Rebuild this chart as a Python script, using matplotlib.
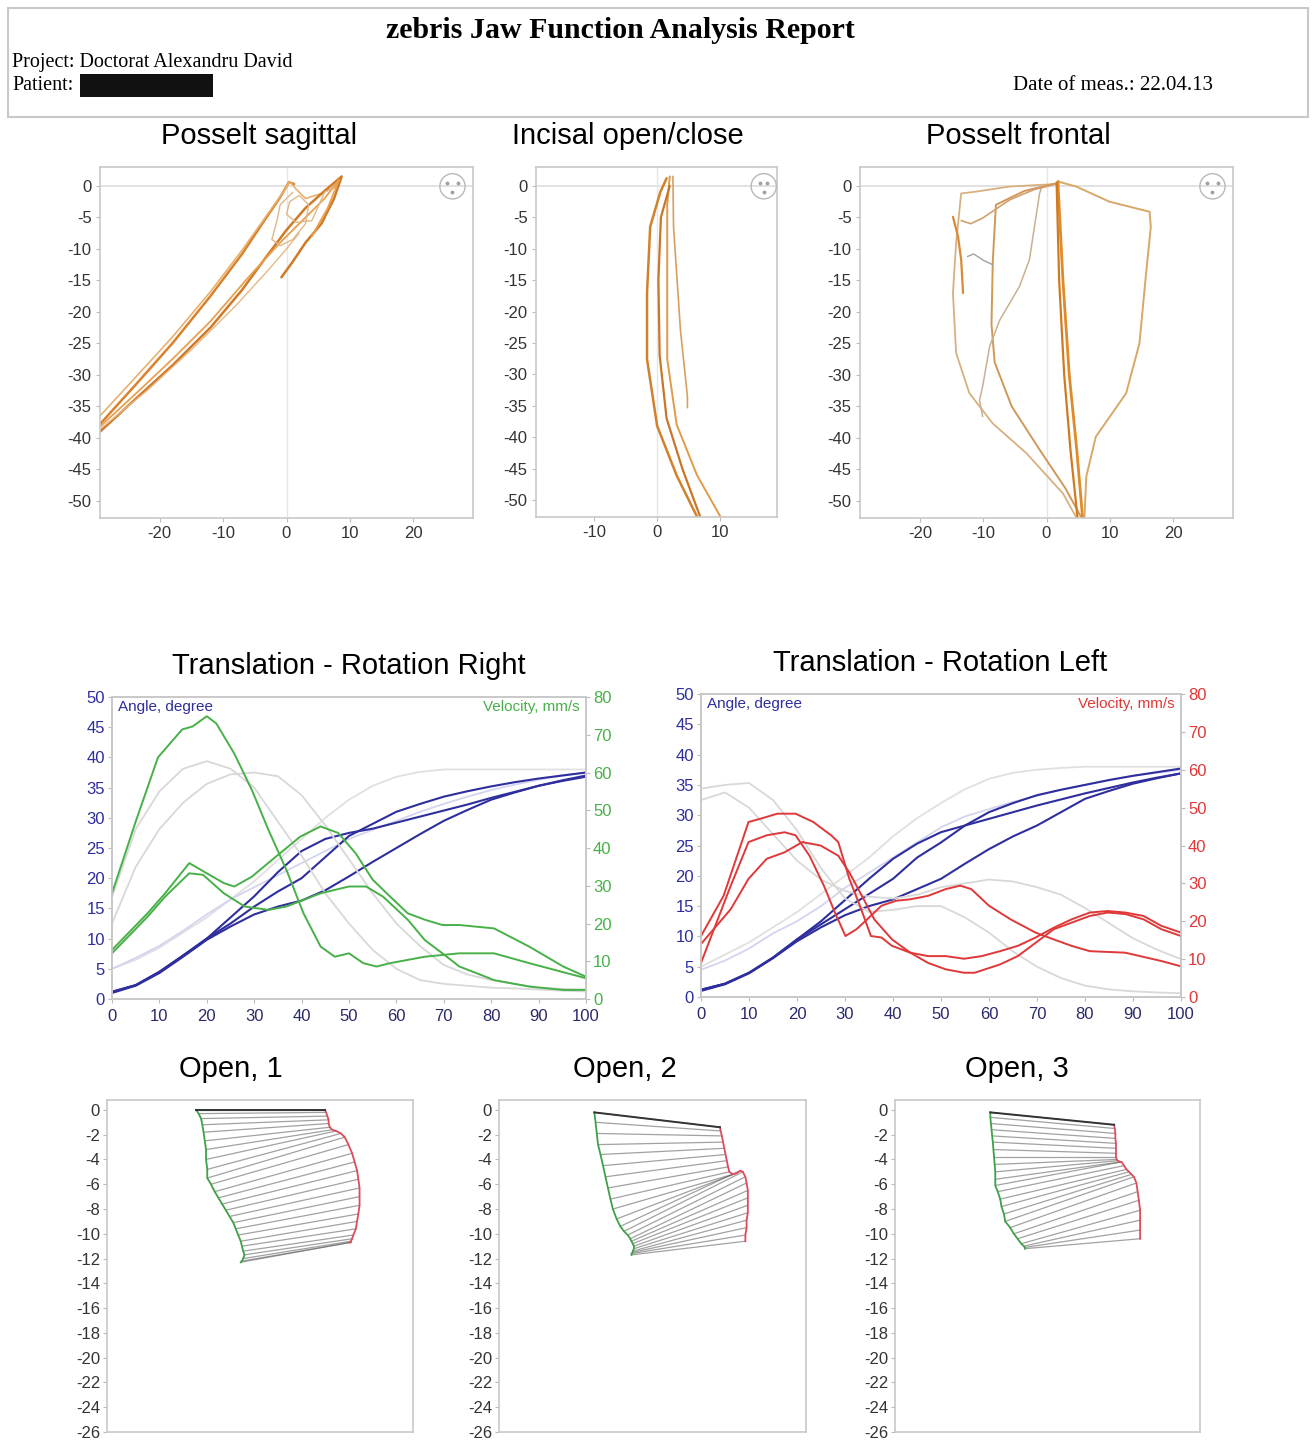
import numpy as np
import matplotlib.pyplot as plt
from matplotlib.patches import Rectangle

W, H = 1314, 1441
plt.rcParams['font.family'] = ['Liberation Sans', 'DejaVu Sans']
plt.rcParams['axes.unicode_minus'] = False

# ---------------- data ----------------
# Posselt sagittal traces (x, y) in mm
sag_up1 = [(-29.4, -37.8), (-24, -31.8), (-18, -25), (-12, -17.5), (-7, -10.8), (-3.5, -5.5), (-1, -1.8), (0.4, 0.6), (1.2, 0.3)]
sag_up2 = [(-29.4, -36.5), (-24, -30.6), (-18, -24), (-12, -16.8), (-7, -10.2), (-3, -4.5), (-0.5, -1), (0.5, 0.7), (1.5, -0.5), (3, -2), (5.5, -1.2), (8, 0)]
sag_lo1 = [(-29.4, -39), (-24, -34), (-18, -28.5), (-12, -22.5), (-7, -16.5), (-3, -11), (0, -7), (3, -3.5), (6, -0.8), (8.7, 1.5),
           (7.5, -2), (5.5, -6), (3, -9), (1, -12), (-0.8, -14.5)]
sag_lo2 = [(-29.4, -38.2), (-24, -33.2), (-18, -27.5), (-12, -21.5), (-6, -14.5), (-1, -9), (3, -5), (6, -2), (8.3, 1), (6.5, -3.5), (4, -8)]
sag_lo3 = [(-29.4, -38.6), (-22, -32.5), (-15, -26), (-8, -19), (-3, -13.5), (0, -10), (2, -7.5)]
sag_loop = [(1, -1), (-1, -3), (-1.5, -5.5), (-2.3, -8.5), (-1, -9.5), (1, -8.5), (3, -6), (3.5, -3), (2, -1.5), (0.5, -2.5),
            (0, -4.5), (1.5, -5.8), (4, -5.5), (6, -1), (7, -0.5)]
sag_traces = [(sag_up1, '#D9822B', 1.8), (sag_up2, '#E8B070', 1.2), (sag_lo1, '#D07A28', 1.8),
              (sag_lo2, '#E8A050', 1.3), (sag_lo3, '#E6B888', 1.0), (sag_loop, '#E0B888', 1.0)]

# Incisal open/close traces
inc_1 = [(1.5, 1.2), (0.5, -1), (-1.1, -6.5), (-1.6, -17), (-1.6, -27.6), (0, -38.2), (3.1, -46.1), (6.3, -52.6)]
inc_2 = [(2, 1.5), (1.6, -3), (1.6, -15), (1.6, -27.6), (3.1, -38), (6.3, -46), (10, -52.6)]
inc_3 = [(2.5, 1.5), (2.6, -6.5), (3.7, -23), (4.8, -33.5), (4.8, -35.3)]
inc_4 = [(2, 0), (0.6, -5), (0.2, -15), (0.4, -27), (1.5, -37), (4, -45), (6.8, -52.6)]
inc_traces = [(inc_1, '#D0822A', 1.8), (inc_2, '#E09A48', 1.4), (inc_3, '#D8A060', 1.2), (inc_4, '#C8762A', 1.6)]

# Posselt frontal traces
fr_main1 = [(1.8, 0.7), (2.6, -15), (3.6, -30), (4.8, -42), (5.7, -52.6)]
fr_main2 = [(1.6, 0.5), (2.0, -15), (2.8, -30), (3.8, -42), (4.9, -52.6)]
fr_right = [(1.8, 0.7), (4.7, -0.1), (9.95, -2.5), (16.3, -4.1), (16.5, -6.5), (15.7, -14.4), (14.7, -25), (12.6, -32.9),
            (7.8, -39.8), (6.3, -46.1), (6.0, -52.6)]
fr_left = [(1.5, 0.3), (-5.8, -0.1), (-11.1, -0.9), (-13.5, -1.2), (-14.3, -9.1), (-14.8, -17), (-14.3, -26.5), (-12.2, -32.9),
           (-8.5, -37.7), (-3.2, -42.4), (2.6, -48.8), (4.7, -52.6)]
fr_inner = [(1.5, 0.4), (-3.5, -0.8), (-8, -3), (-8.5, -12), (-8.7, -22), (-8.2, -28), (-5.5, -35), (-1, -42), (3, -48), (5.5, -52.6)]
fr_diag = [(-0.8, -0.3), (-1.1, -1.2), (-2.7, -11.7), (-4.3, -16), (-7.4, -21.3), (-9, -25.5), (-10.1, -31.8), (-10.6, -34), (-10.1, -36.6)]
fr_lvert = [(-14.8, -4.9), (-14, -8), (-13.5, -11.7), (-13.2, -17)]
fr_cross = [(-13.5, -5.5), (-12, -6), (-10.1, -5.1), (-5.8, -2.2), (-2, -0.6), (1.6, 0.3)]
fr_short = [(-12.5, -11.2), (-11.5, -10.8), (-10, -11.8), (-8.5, -12.5)]
fr_traces = [(fr_right, '#D8A868', 1.4), (fr_left, '#D8B080', 1.3), (fr_inner, '#D09858', 1.4), (fr_diag, '#C8B090', 1.1),
             (fr_lvert, '#D88A38', 1.6), (fr_cross, '#D0A070', 1.2), (fr_short, '#A0A0A0', 1.0),
             (fr_main1, '#E08A2A', 2.0), (fr_main2, '#D07A20', 1.6)]

# Translation - Rotation, x in % of movement
pct = [0, 5, 10, 15, 20, 25, 30, 35, 40, 45, 50, 55, 60, 65, 70, 75, 80, 85, 90, 95, 100]
r_ang_a = [1.2, 2.3, 4.5, 7.2, 10, 13.5, 17, 21, 24.5, 26.5, 27.5, 28.2, 29.2, 30.2, 31.2, 32.2, 33.3, 34.3, 35.3, 36.2, 37.0]
r_ang_b = [1.2, 2.3, 4.5, 7.2, 10, 12.5, 15.3, 17.8, 20, 23.5, 27, 29, 31, 32.3, 33.5, 34.4, 35.2, 35.9, 36.5, 37, 37.5]
r_ang_c = [1.0, 2.2, 4.3, 7, 9.8, 12, 14, 15.3, 16.3, 18, 20.3, 22.7, 25, 27.3, 29.5, 31.3, 33, 34.2, 35.3, 36.1, 36.8]
r_ang_faint = [5, 6.5, 8.5, 11, 13.5, 16.5, 19.5, 23, 26.5, 30, 33, 35.3, 36.8, 37.6, 38, 38, 38, 38, 38, 38, 38]
r_ang_faint2 = [5, 6.8, 8.8, 11.3, 14, 16.5, 18.5, 20.5, 22.5, 24.5, 26.5, 28, 29.5, 31, 32.3, 33.5, 34.6, 35.5, 36.3, 37, 37.5]

r_v1_x = [0, 5, 9.7, 14.8, 17, 20, 22, 25.8, 29.5, 33, 36.8, 40.4, 44, 47, 50, 53, 55.8, 58.7, 66, 73.3, 80.6, 88, 100]
r_v1 = [28, 47, 64, 71.4, 72.2, 74.9, 73, 65, 55.4, 44.8, 34.2, 22.7, 13.9, 11.2, 12.1, 9.5, 8.6, 9.5, 11.2, 12.1, 12.1, 9.5, 5.5]
r_v2_x = [0, 7.5, 11.2, 16.3, 20, 23.6, 25.8, 29.5, 33.8, 39.7, 44, 47.7, 51.4, 55, 58.7, 62.4, 66, 69.7, 73.3, 80.6, 88, 95.2, 100]
r_v2 = [13, 22.7, 28, 36, 33.3, 30.7, 29.8, 32.4, 36.9, 43, 45.7, 44, 38.6, 31.6, 27.1, 22.7, 21, 19.6, 19.6, 18.7, 13.9, 8.6, 5.9]
r_v3_x = [0, 7.5, 11.2, 16.3, 19.2, 23.6, 28, 33, 36.8, 44, 50, 53.6, 57.2, 62.4, 66, 69.7, 73.3, 77, 80.6, 88, 95.2, 100]
r_v3 = [12.1, 21.8, 27.1, 33.3, 32.9, 28, 24.5, 23.6, 24.5, 28, 29.8, 29.8, 27.1, 21, 15.6, 12.1, 8.6, 6.8, 5, 3.3, 2.4, 2.4]
r_vf1 = [27, 45, 55, 61, 63, 61, 56, 47, 38, 28, 20, 13, 8, 5, 4, 3.5, 3, 2.8, 2.5, 2.2, 2]
r_vf2 = [20, 35, 45, 52, 57, 59.5, 60, 59, 54, 46, 37, 28, 20, 14, 9, 6.5, 5, 4, 3, 2.7, 2.5]

l_ang_a = [1.2, 2.2, 4, 6.5, 9.5, 12.5, 16, 19.5, 22.8, 25.3, 27.2, 28.3, 29.4, 30.5, 31.6, 32.6, 33.6, 34.5, 35.4, 36.2, 36.9]
l_ang_b = [1.2, 2.2, 4, 6.5, 9.5, 12, 14.5, 17, 19.5, 23, 25.5, 28.3, 30.5, 32, 33.3, 34.2, 35, 35.8, 36.5, 37.1, 37.7]
l_ang_c = [1.0, 2.1, 3.9, 6.4, 9.2, 11.5, 13.5, 15, 16.1, 17.8, 19.5, 22, 24.4, 26.5, 28.3, 30.5, 32.7, 34, 35.2, 36.1, 36.9]
l_ang_faint = [5, 7, 9, 11.5, 14, 17, 20, 23, 26.5, 29.5, 32, 34.3, 36, 37, 37.5, 37.8, 38, 38, 38, 38, 38]
l_ang_faint2 = [4.5, 6, 8, 10.5, 12.5, 15, 18, 20.5, 23, 25.5, 28, 29.8, 31, 32.2, 33.2, 34.2, 35, 35.8, 36.5, 37, 37.5]

l_v1_x = [0, 4.7, 9.9, 12.2, 15.9, 19.7, 23.4, 27.1, 28.6, 30.9, 33.1, 35.4, 37.6, 39.8, 43.6, 47.3, 51, 54.8, 58.5, 62.3, 66, 69.7,
          73.5, 77.2, 81, 84.7, 88.4, 92.2, 95.9, 100]
l_v1 = [16.1, 26.7, 46.2, 47, 48.4, 48.4, 46.2, 42.7, 40.9, 31.2, 24.1, 16.1, 15.7, 13.5, 11.7, 10.8, 10.8, 10.1, 10.8, 12.1, 13.5, 15.7,
        18.3, 20.5, 22.3, 22.7, 22.3, 21.4, 18.8, 17]
l_v2_x = [0, 6.2, 9.9, 13.7, 17.4, 19.7, 22.6, 25.6, 27.9, 30.1, 32.4, 34.6, 37.6, 40.6, 43.6, 47.3, 51, 54, 56.3, 60, 64.5, 69.7,
          73.5, 77.2, 81, 88.4, 95.9, 100]
l_v2 = [9, 29.4, 40.9, 42.7, 43.5, 42.7, 37.3, 29.4, 22.3, 16.1, 17.9, 20.5, 24.1, 25.4, 25.8, 26.7, 28.5, 29.4, 28.5, 24.1, 20.5, 17,
        15.2, 13.5, 12.1, 11.7, 9.5, 8.1]
l_v3_x = [0, 6.2, 9.9, 13.7, 17.4, 21.1, 24.9, 28.6, 30.9, 33.9, 36.1, 39.8, 43.6, 47.3, 51, 54.8, 57, 62.3, 66, 69.7, 73.5, 81,
          84.7, 88.4, 92.2, 95.9, 100]
l_v3 = [14, 23.2, 31.2, 36.5, 38.2, 40.9, 40, 37.3, 32.9, 25.8, 20.5, 15.2, 11.7, 9, 7.3, 6.4, 6.4, 8.6, 10.8, 14.3, 17.9, 21.4,
        22.3, 21.9, 20.5, 17.9, 16.1]
l_vf1 = [55, 56, 56.5, 52, 44, 34, 26, 22.5, 23, 24, 24, 21, 17, 12, 8, 5, 3, 2, 1.5, 1.2, 1]
l_vf2 = [52, 54, 50, 43, 36, 31, 28, 26.5, 26, 27, 29, 30, 31, 30.5, 29, 27, 23.5, 19.5, 15.5, 12.5, 10]

# Opening fans: left point (x, y) and right point (x, y) per sample
open1_xl = [7.2, 7.4, 7.6, 7.7, 7.8, 7.9, 8.0, 8.0, 8.1, 8.1, 8.4, 8.7, 9.0, 9.3, 9.6, 9.9, 10.2, 10.4, 10.6, 10.8, 10.9, 11.0, 11.1, 11.0, 10.9, 10.8]
open1_yl = [0.0, -0.3, -0.7, -1.2, -1.8, -2.5, -3.2, -4.0, -4.8, -5.5, -6.0, -6.6, -7.1, -7.6, -8.1, -8.6, -9.1, -9.6, -10.1, -10.6, -11.0, -11.4, -11.7, -12.0, -12.2, -12.3]
open1_xr = [17.6, 17.7, 17.8, 17.9, 17.9, 18.0, 18.2, 18.5, 18.9, 19.2, 19.5, 19.8, 20.0, 20.2, 20.3, 20.4, 20.4, 20.4, 20.3, 20.2, 20.1, 19.9, 19.8, 19.7, 19.7, 19.6]
open1_yr = [0.0, -0.2, -0.5, -0.8, -1.1, -1.4, -1.6, -1.7, -1.9, -2.2, -2.8, -3.5, -4.2, -4.9, -5.6, -6.3, -7.0, -7.7, -8.4, -9.0, -9.6, -10.1, -10.4, -10.6, -10.7, -10.7]

open2_xl = [7.7, 7.8, 7.9, 8.0, 8.2, 8.4, 8.6, 8.8, 9.0, 9.2, 9.5, 9.8, 10.1, 10.4, 10.6, 10.7, 10.8, 10.9, 10.9, 10.8, 10.8, 10.7, 10.7]
open2_yl = [-0.2, -1.0, -1.9, -2.8, -3.6, -4.5, -5.4, -6.3, -7.2, -8.0, -8.8, -9.4, -9.8, -10.1, -10.4, -10.6, -10.8, -11.0, -11.2, -11.4, -11.5, -11.6, -11.7]
open2_xr = [17.85, 17.9, 18.0, 18.1, 18.2, 18.3, 18.4, 18.5, 18.6, 18.9, 19.2, 19.5, 19.7, 19.9, 20.0, 20.1, 20.1, 20.1, 20.1, 20.0, 20.0, 19.9, 19.9]
open2_yr = [-1.4, -1.7, -2.1, -2.6, -3.1, -3.6, -4.1, -4.6, -5.0, -5.2, -5.1, -4.9, -5.0, -5.4, -5.9, -6.5, -7.1, -7.7, -8.3, -8.9, -9.5, -10.1, -10.6]

open3_xl = [7.7, 7.7, 7.75, 7.8, 7.85, 7.9, 7.95, 8.0, 8.05, 8.1, 8.1, 8.1, 8.3, 8.5, 8.6, 8.8, 8.9, 9.3, 9.6, 9.9, 10.2, 10.4, 10.5, 10.5]
open3_yl = [-0.2, -0.6, -1.1, -1.6, -2.1, -2.6, -3.2, -3.8, -4.4, -5.0, -5.6, -6.1, -6.6, -7.2, -7.8, -8.4, -9.0, -9.5, -10.0, -10.4, -10.8, -11.0, -11.1, -11.2]
open3_xr = [17.7, 17.75, 17.8, 17.8, 17.85, 17.85, 17.85, 17.85, 17.9, 18.0, 18.2, 18.3, 18.5, 18.7, 18.9, 19.1, 19.3, 19.5, 19.6, 19.7, 19.8, 19.8, 19.8, 19.8]
open3_yr = [-1.2, -1.5, -1.9, -2.3, -2.7, -3.1, -3.5, -3.8, -4.0, -4.1, -4.2, -4.2, -4.5, -4.8, -5.0, -5.2, -5.4, -5.9, -6.6, -7.3, -8.1, -8.9, -9.7, -10.4]

# ---------------- figure ----------------
fig = plt.figure(figsize=(W / 100, H / 100), dpi=100)


def add_ax(x0, y0, x1, y1):
    return fig.add_axes([x0 / W, 1 - y1 / H, (x1 - x0) / W, (y1 - y0) / H])


# header box
fig.patches.append(Rectangle((8 / W, 1 - 117 / H), 1300 / W, 109 / H, transform=fig.transFigure,
                             fill=False, edgecolor='#c8c8c8', lw=1.5))
fig.text(620 / W, 1 - 30 / H, 'zebris Jaw Function Analysis Report', ha='center', va='center',
         family='Liberation Serif', weight='bold', fontsize=21.5)
fig.text(12 / W, 1 - 62 / H, 'Project: Doctorat Alexandru David', ha='left', va='center',
         family='Liberation Serif', fontsize=14.5)
fig.text(12 / W, 1 - 86 / H, 'Patient:', ha='left', va='center', family='Liberation Serif', fontsize=14.5)
fig.patches.append(Rectangle((80 / W, 1 - 97 / H), 133 / W, 23 / H, transform=fig.transFigure,
                             facecolor='#111111', edgecolor='none'))
fig.text(1213 / W, 1 - 85 / H, 'Date of meas.: 22.04.13', ha='right', va='center',
         family='Liberation Serif', fontsize=15)

SPINE = '#c8c8c8'
TICKC = '#333333'
TFS = 21


def style_box(ax):
    for s in ax.spines.values():
        s.set_color(SPINE)
        s.set_linewidth(1.2)


def face_icon(ax):
    ax.scatter([0.945], [0.945], s=330, facecolors='none', edgecolors='#b8b8b8', lw=1.0,
               transform=ax.transAxes, zorder=5, clip_on=False)
    ax.scatter([0.93, 0.96, 0.945], [0.955, 0.955, 0.93], s=3, c='#a0a0a0', transform=ax.transAxes, zorder=5)


def top_panel(box, xlim, xticks, title, tx, traces):
    ax = add_ax(*box)
    ax.set_xlim(*xlim)
    ax.set_ylim(-52.7, 3.0)
    ax.axhline(0, color='#dddddd', lw=1.2, zorder=0)
    ax.axvline(0, color='#e6e6e6', lw=1.0, zorder=0)
    for pts, col, lw in traces:
        a = np.array(pts)
        ax.plot(a[:, 0], a[:, 1], color=col, lw=lw, solid_capstyle='round')
    ax.set_xticks(xticks)
    ax.set_yticks(np.arange(0, -51, -5))
    ax.tick_params(labelsize=12, colors='#bbbbbb', labelcolor=TICKC, length=3, pad=3)
    style_box(ax)
    face_icon(ax)
    fig.text(tx / W, 1 - 136 / H, title, ha='center', va='center', fontsize=TFS)
    return ax


top_panel((100, 167, 473, 518), (-29.4, 29.4), [-20, -10, 0, 10, 20], 'Posselt sagittal', 259, sag_traces)
top_panel((536, 167, 777, 517), (-19.2, 19.0), [-10, 0, 10], 'Incisal open/close', 628, inc_traces)
top_panel((860, 167, 1233, 518), (-29.5, 29.5), [-20, -10, 0, 10, 20], 'Posselt frontal', 1018, fr_traces)

BLUE = '#2e2e9e'


def tr_panel(box, title, tx, ty, angs, faint_angs, vels, faint_vels, vcol, vlab):
    ax = add_ax(*box)
    ax.set_xlim(0, 100)
    ax.set_ylim(0, 50)
    ax2 = ax.twinx()
    ax2.set_ylim(0, 80)
    for f in faint_vels:
        ax2.plot(pct, f, color='#d8d8d8', lw=1.3)
    for f, c in faint_angs:
        ax.plot(pct, f, color=c, lw=1.3)
    for vx, v in vels:
        ax2.plot(vx, v, color=vcol, lw=1.4)
    for a in angs:
        ax.plot(pct, a, color=BLUE, lw=1.5)
    ax.set_xticks(range(0, 101, 10))
    ax.set_yticks(range(0, 51, 5))
    ax2.set_yticks(range(0, 81, 10))
    ax.tick_params(axis='y', labelsize=12, colors='#bbbbbb', labelcolor=BLUE, length=3, pad=2)
    ax.tick_params(axis='x', labelsize=12, colors='#bbbbbb', labelcolor='#2a2a6a', length=3, pad=4)
    ax2.tick_params(axis='y', labelsize=12, colors='#bbbbbb', labelcolor=vcol, length=3, pad=2)
    for a in (ax, ax2):
        for s in a.spines.values():
            s.set_color(SPINE)
            s.set_linewidth(1.2)
    ax.text(0.013, 0.967, 'Angle, degree', transform=ax.transAxes, ha='left', va='center', color=BLUE, fontsize=11)
    ax.text(0.987, 0.967, vlab, transform=ax.transAxes, ha='right', va='center', color=vcol, fontsize=11)
    fig.text(tx / W, 1 - ty / H, title, ha='center', va='center', fontsize=TFS)


tr_panel((112, 697, 586, 999), 'Translation - Rotation Right', 349, 666,
         [r_ang_c, r_ang_b, r_ang_a], [(r_ang_faint, '#e0e0e0'), (r_ang_faint2, '#d4d4f0')],
         [(r_v1_x, r_v1), (r_v2_x, r_v2), (r_v3_x, r_v3)], [r_vf1, r_vf2],
         '#48b048', 'Velocity, mm/s')
tr_panel((701, 694, 1181, 997), 'Translation - Rotation Left', 940, 663,
         [l_ang_c, l_ang_b, l_ang_a], [(l_ang_faint, '#e0e0e0'), (l_ang_faint2, '#d4d4f0')],
         [(l_v1_x, l_v1), (l_v2_x, l_v2), (l_v3_x, l_v3)], [l_vf1, l_vf2],
         '#e03838', 'Velocity, mm/s')


def open_panel(box, title, tx, xl, yl, xr, yr):
    ax = add_ax(*box)
    ax.set_ylim(-26, 0.8)
    wpx = box[2] - box[0]
    ax.set_xlim(0, wpx / 12.38)
    for i in range(len(xl)):
        ax.plot([xl[i], xr[i]], [yl[i], yr[i]], color='#555555', lw=0.9, alpha=0.55)
    ax.plot(xl, yl, color='#3fa048', lw=1.3)
    ax.plot(xr, yr, color='#e04a5a', lw=1.3)
    ax.plot([xl[0], xr[0]], [yl[0], yr[0]], color='#333333', lw=1.4)
    ax.set_xticks([])
    ax.set_yticks(range(0, -27, -2))
    ax.tick_params(axis='y', labelsize=12, colors='#bbbbbb', labelcolor=TICKC, length=3, pad=2)
    style_box(ax)
    fig.text(tx / W, 1 - 1069 / H, title, ha='center', va='center', fontsize=TFS)


open_panel((107, 1100, 413, 1432), 'Open, 1', 231, open1_xl, open1_yl, open1_xr, open1_yr)
open_panel((499, 1100, 806, 1432), 'Open, 2', 625, open2_xl, open2_yl, open2_xr, open2_yr)
open_panel((895, 1100, 1200, 1432), 'Open, 3', 1017, open3_xl, open3_yl, open3_xr, open3_yr)

fig.savefig('out.png', dpi=100)
